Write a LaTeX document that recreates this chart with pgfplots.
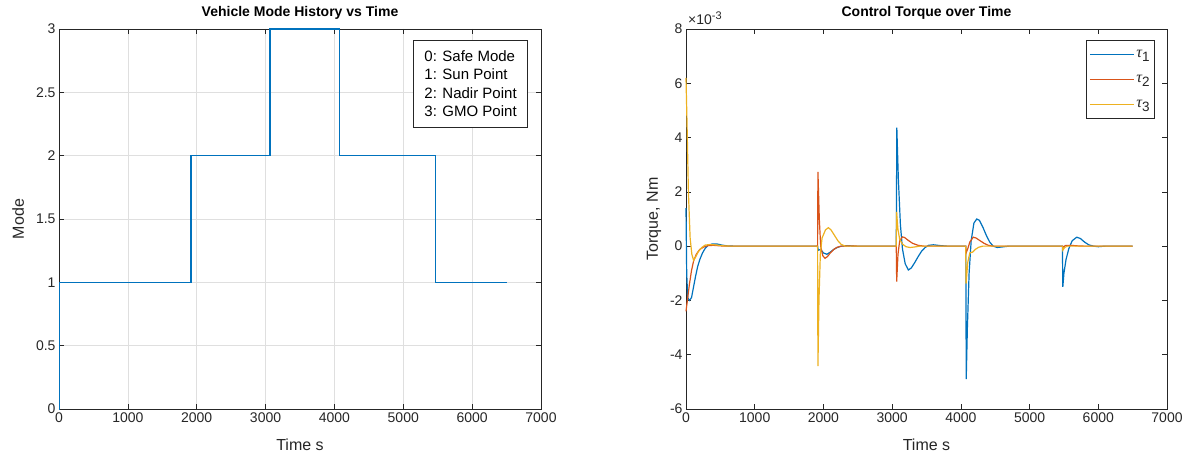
\documentclass[border=0pt]{standalone}
\usepackage{pgfplots}
\pgfplotsset{compat=1.18}
\usepackage{fontspec}
\setmainfont{Liberation Sans}
\newfontfamily\taufont{Liberation Serif}
\definecolor{mb}{rgb}{0,0.447,0.741}
\definecolor{mr}{rgb}{0.85,0.325,0.098}
\definecolor{my}{rgb}{0.929,0.694,0.125}
\definecolor{ax}{gray}{0.15}
\newcommand{\tauu}[1]{{\taufont\itshape\fontsize{16}{16}\selectfont τ}\raisebox{-4.5pt}{\fontsize{13.5}{14}\selectfont #1}}
\pgfplotsset{
  base/.style={
    scale only axis, height=380pt,
    axis line style={ax, line width=0.6pt},
    tick style={ax, line width=0.6pt},
    major tick length=5pt,
    tick align=inside, xtick pos=both, ytick pos=both,
    ticklabel style={font=\fontsize{14}{16}\selectfont, text=ax},
    /pgf/number format/assume math mode=true,
    /pgf/number format/1000 sep={},
    label style={font=\fontsize{16}{18}\selectfont, text=ax},
    title style={font=\bfseries\fontsize{14}{16}\selectfont, text=black},
    xmin=0, xmax=7000, xtick={0,1000,...,7000},
    xlabel={Time s},
    xlabel style={yshift=-10pt},
    clip=false,
  }
}
\begin{document}
\begin{tikzpicture}
\useasboundingbox (0,0) rectangle (1189pt,458pt);
\begin{axis}[base, at={(59pt,49pt)}, anchor=south west, width=482pt,
  ymin=0, ymax=3, ytick={0,0.5,...,3},
  yticklabels={0,0.5,1,1.5,2,2.5,3},
  grid=major, grid style={gray!25, line width=0.5pt},
  title={Vehicle Mode History vs Time},
  ylabel={Mode}, ylabel style={yshift=5pt}]
\addplot[mb, line width=1.2pt, const plot mark left] coordinates {
(0,0) (8,1) (1916,2) (3063,3) (4078,2) (5472,1) (6500,1)};
\node[draw=ax, fill=white, line width=0.6pt, anchor=north east, align=left,
  font=\fontsize{15}{18.5}\selectfont, text=black, inner xsep=11pt, inner ysep=10pt]
  at (rel axis cs:0.973,0.971) {0: Safe Mode\\1: Sun Point\\2: Nadir Point\\3: GMO Point};
\end{axis}
\begin{axis}[base, at={(686pt,49pt)}, anchor=south west, width=481pt,
  ymin=-6, ymax=8, ytick={-6,-4,...,8},
  title={Control Torque over Time},
  ylabel={Torque, Nm}, ylabel style={yshift=2pt},
  legend cell align=left,
  legend style={at={(0.975,0.971)}, anchor=north east, draw=ax, line width=0.6pt,
    text=ax, row sep=3pt, inner xsep=3pt, inner ysep=3pt,
    nodes={inner sep=2pt, text height=12pt, text depth=6pt}},
  legend image code/.code={\draw[#1, line width=1.2pt] (0pt,0pt) -- (44pt,0pt);}]
\addplot[mb, line width=1.2pt] coordinates {
(0,1.4) (10,-1.0) (25,-1.9) (50,-2.0) (80,-1.9) (110,-1.5) (140,-1.1) (170,-0.75)
(200,-0.5) (240,-0.25) (280,-0.08) (320,0.02) (380,0.08) (450,0.08) (520,0.04)
(600,0.01) (700,0) (1915,0) (1925,-0.15) (1960,-0.12) (2000,-0.25) (2050,-0.3)
(2100,-0.22) (2150,-0.12) (2200,-0.05) (2260,0) (2350,0.02) (2450,0) (3060,0)
(3068,4.37) (3090,2.5) (3120,0.8) (3150,-0.1) (3190,-0.65) (3236,-0.88) (3280,-0.8)
(3330,-0.6) (3380,-0.38) (3430,-0.18) (3480,-0.05) (3530,0.03) (3600,0.05)
(3700,0.02) (3800,0) (4072,0) (4078,-4.9) (4095,-3.0) (4120,-1.0) (4150,0.2)
(4190,0.85) (4231,1.0) (4270,0.95) (4320,0.7) (4370,0.4) (4420,0.15) (4470,0.0)
(4530,-0.05) (4600,-0.03) (4700,0) (5478,0) (5484,-1.5) (5500,-1.0) (5530,-0.5)
(5570,-0.1) (5620,0.2) (5687,0.33) (5740,0.28) (5800,0.15) (5860,0.05) (5930,0)
(6000,-0.02) (6100,0) (6500,0)};
\addlegendentry{\tauu{1}}
\addplot[mr, line width=1.2pt] coordinates {
(0,-2.4) (20,-2.0) (50,-1.4) (80,-0.9) (110,-0.55) (150,-0.3) (200,-0.12)
(260,-0.03) (320,0.02) (400,0.03) (500,0.01) (600,0) (1915,0) (1920,2.74)
(1940,1.0) (1960,0.0) (1990,-0.35) (2023,-0.45) (2060,-0.38) (2100,-0.25)
(2150,-0.12) (2200,-0.04) (2260,0) (2400,0.01) (2500,0) (3060,0) (3066,-1.31)
(3085,-0.3) (3110,0.2) (3150,0.34) (3180,0.32) (3230,0.22) (3300,0.1) (3380,0.03)
(3460,0) (4070,0) (4076,-0.25) (4100,-0.1) (4130,0.15) (4180,0.33) (4220,0.3)
(4280,0.2) (4340,0.1) (4400,0.03) (4460,0) (5480,0) (5484,-0.05) (5520,0.02)
(5600,0.03) (5700,0.01) (5800,0) (6500,0)};
\addlegendentry{\tauu{2}}
\addplot[my, line width=1.2pt] coordinates {
(0,6.2) (15,4.5) (35,2.0) (60,0.3) (85,-0.3) (110,-0.52) (140,-0.4) (180,-0.2)
(230,-0.05) (280,0.04) (350,0.06) (450,0.04) (550,0.01) (650,0) (1915,0)
(1920,-4.42) (1935,-2.0) (1955,-0.3) (1980,0.3) (2030,0.6) (2072,0.68) (2110,0.6)
(2160,0.4) (2210,0.2) (2260,0.06) (2320,0) (2400,0) (3060,0) (3064,1.26)
(3085,0.6) (3110,0.25) (3150,0.08) (3200,-0.02) (3260,-0.05) (3330,-0.03)
(3400,0) (4070,0) (4076,-1.38) (4100,-0.6) (4130,-0.25) (4170,-0.22) (4210,-0.12)
(4260,-0.04) (4320,0) (5480,0) (5484,-0.15) (5510,-0.05) (5550,0) (6500,0)};
\addlegendentry{\tauu{3}}
\node[anchor=south west, font=\fontsize{14}{15}\selectfont, text=ax, inner sep=0pt]
  at (rel axis cs:0,1) [xshift=2pt, yshift=4pt] {×10\raisebox{5pt}{\fontsize{11}{12}\selectfont -3}};
\end{axis}
\end{tikzpicture}
\end{document}
